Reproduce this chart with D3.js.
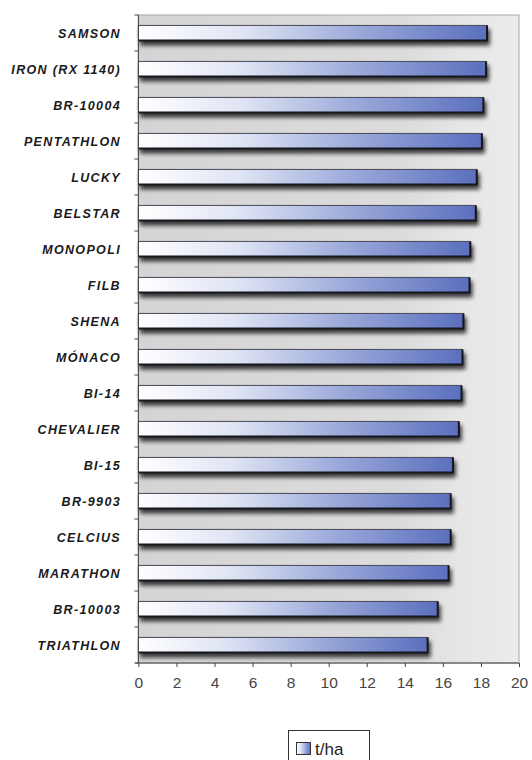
<!DOCTYPE html>
<html><head><meta charset="utf-8">
<script src="https://cdn.jsdelivr.net/npm/d3@7"></script>
<style>body{margin:0;background:#fff;} svg{display:block;}</style>
</head><body>
<div id="chart"></div>
<script>
const categories = ["SAMSON","IRON (RX 1140)","BR-10004","PENTATHLON","LUCKY","BELSTAR","MONOPOLI","FILB","SHENA","MÓNACO","BI-14","CHEVALIER","BI-15","BR-9903","CELCIUS","MARATHON","BR-10003","TRIATHLON"];
const values = [18.32,18.27,18.13,18.05,17.78,17.73,17.44,17.40,17.08,17.03,16.98,16.84,16.53,16.41,16.41,16.30,15.73,15.20];
const xTicks = [0,2,4,6,8,10,12,14,16,18,20];
const seriesName = "t/ha";

const W = 532, H = 760;
const plotTop = 15, plotBottom = 663;
const svg = d3.select("#chart").append("svg").attr("width",W).attr("height",H);
const defs = svg.append("defs");

const bg = defs.append("linearGradient").attr("id","bg").attr("x1","0").attr("x2","1").attr("y1","0").attr("y2","0");
bg.append("stop").attr("offset","0").attr("stop-color","#d4d4d4");
bg.append("stop").attr("offset","0.7").attr("stop-color","#dcdcdc");
bg.append("stop").attr("offset","0.85").attr("stop-color","#e6e6e6");
bg.append("stop").attr("offset","1").attr("stop-color","#ececec");

const bar = defs.append("linearGradient").attr("id","bar").attr("x1","0").attr("x2","1").attr("y1","0").attr("y2","0");
bar.append("stop").attr("offset","0").attr("stop-color","#ffffff");
bar.append("stop").attr("offset","0.3").attr("stop-color","#dfe4f4");
bar.append("stop").attr("offset","0.65").attr("stop-color","#97a6d8");
bar.append("stop").attr("offset","1").attr("stop-color","#5b6fbe");

const sh = defs.append("filter").attr("id","sh").attr("x","-5%").attr("y","-50%").attr("width","115%").attr("height","260%");
sh.append("feGaussianBlur").attr("in","SourceAlpha").attr("stdDeviation",2.2);
sh.append("feOffset").attr("dx",2).attr("dy",4).attr("result","b");
sh.append("feComponentTransfer").append("feFuncA").attr("type","linear").attr("slope",0.75);
const mg = sh.append("feMerge"); mg.append("feMergeNode"); mg.append("feMergeNode").attr("in","SourceGraphic");

const x = d3.scaleLinear().domain([0,20]).range([138.4, 519]);
const y = d3.scaleBand().domain(categories).range([plotTop, plotBottom]).paddingInner(0.58).paddingOuter(0.29);

svg.append("rect").attr("x",x(0)).attr("y",plotTop).attr("width",x(20)-x(0)).attr("height",plotBottom-plotTop)
  .attr("fill","url(#bg)").attr("stroke","#a8a8a8").attr("stroke-width",1);

const bars = svg.append("g").selectAll("g").data(categories).join("g").attr("filter","url(#sh)");
bars.append("rect")
  .attr("x",x(0)).attr("y",d=>y(d)).attr("width",(d,i)=>x(values[i])-x(0)).attr("height",y.bandwidth())
  .attr("fill","url(#bar)").attr("stroke","#4a4a5a").attr("stroke-width",1);
bars.append("path")
  .attr("d",(d,i)=>`M${x(0)},${y(d)+y.bandwidth()}H${x(values[i])}V${y(d)}`)
  .attr("fill","none").attr("stroke","#15151f").attr("stroke-width",2);

// y axis
const band = d3.scaleBand().domain(categories).range([plotTop,plotBottom]);
const ya = svg.append("g").attr("transform",`translate(${x(0)},0)`);
ya.append("line").attr("x1",0).attr("x2",0).attr("y1",plotTop).attr("y2",plotBottom).attr("stroke","#444");
ya.selectAll("line.t").data(categories.concat(["_end"])).join("line").attr("class","t")
  .attr("x1",-4).attr("x2",0).attr("y1",(d,i)=>plotTop+i*band.step()).attr("y2",(d,i)=>plotTop+i*band.step()).attr("stroke","#444");
svg.append("g").selectAll("text").data(categories).join("text")
  .attr("x",121).attr("y",d=>y(d)+y.bandwidth()/2).attr("dy","0.36em").attr("text-anchor","end")
  .attr("font-family","Liberation Sans, Arial, sans-serif").attr("font-weight","bold").attr("font-style","italic")
  .attr("font-size",12.5).attr("letter-spacing","1.35px").attr("fill","#1a1a1a").text(d=>d);

// x axis
const xa = svg.append("g").attr("transform",`translate(0,${plotBottom})`);
xa.call(d3.axisBottom(x).tickValues(xTicks).tickSize(4).tickPadding(10));
xa.select(".domain").attr("stroke","#444").attr("d",`M${x(0)-3},0H${x(20)}`);
xa.selectAll(".tick line").attr("stroke","#444");
xa.selectAll(".tick text").attr("font-family","Liberation Sans, Arial, sans-serif").attr("font-size",15.5).attr("fill","#444");

// legend
const lg = svg.append("g");
lg.append("rect").attr("x",288.5).attr("y",730.5).attr("width",81).attr("height",40).attr("fill","#fff").attr("stroke","#333");
lg.append("rect").attr("x",296.5).attr("y",742.5).attr("width",14).attr("height",12).attr("fill","url(#bar)").attr("stroke","#333");
lg.append("text").attr("x",315).attr("y",755).attr("font-family","Liberation Sans, Arial, sans-serif").attr("font-size",17).attr("fill","#222").text(seriesName);
</script>
</body></html>
